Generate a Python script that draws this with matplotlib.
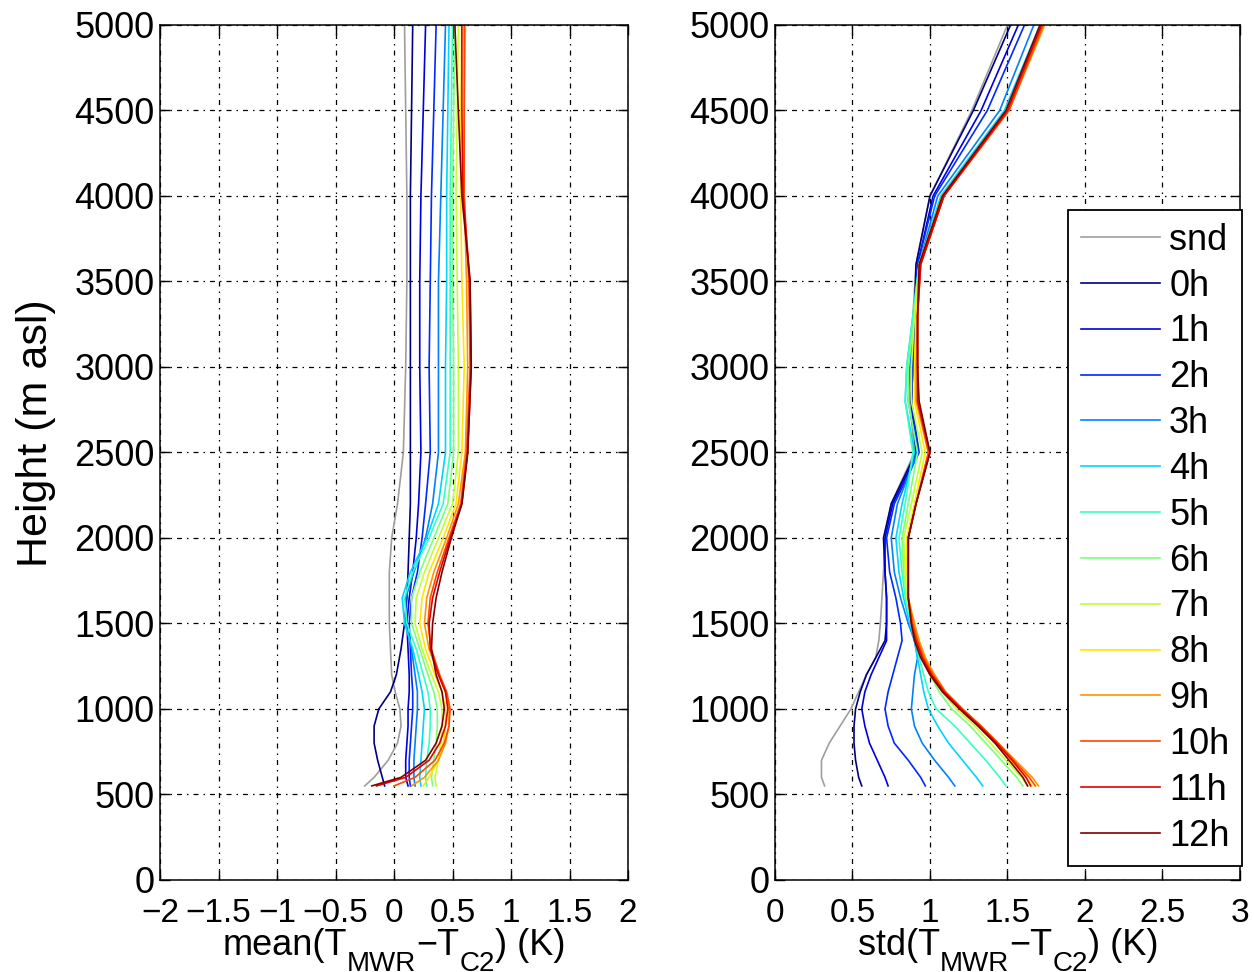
import numpy as np
import matplotlib
matplotlib.use('Agg')
import matplotlib.pyplot as plt
from matplotlib.transforms import IdentityTransform

plt.rcParams['font.family'] = ['Liberation Sans', 'DejaVu Sans']
plt.rcParams['mathtext.default'] = 'regular'

# Series labels (snd = radiosonde, then forecast lead hours)
labels = ['snd', '0h', '1h', '2h', '3h', '4h', '5h', '6h', '7h', '8h', '9h', '10h', '11h', '12h']

# ---- mean(T_MWR - T_C2) profiles (K) ----
heights_mean = [550, 600, 700, 800, 900, 1000, 1100, 1200, 1350, 1500, 1650, 1800,
                2000, 2200, 2500, 3000, 3500, 4000, 4500, 5000]
mean_snd = [-0.25, -0.17, -0.05, 0.03, 0.06, 0.05, 0.01, -0.02, -0.03, -0.04, -0.04, -0.04, -0.02, 0.03, 0.08, 0.10, 0.11, 0.11, 0.10, 0.09]
mean_0h = [-0.08, -0.10, -0.14, -0.17, -0.17, -0.13, -0.03, 0.02, 0.06, 0.09, 0.11, 0.12, 0.13, 0.14, 0.14, 0.14, 0.14, 0.14, 0.15, 0.16]
mean_1h = [0.12, 0.10, 0.10, 0.11, 0.12, 0.12, 0.13, 0.13, 0.12, 0.11, 0.13, 0.16, 0.19, 0.21, 0.23, 0.22, 0.22, 0.23, 0.25, 0.27]
mean_2h = [0.14, 0.13, 0.13, 0.14, 0.15, 0.16, 0.16, 0.15, 0.14, 0.13, 0.15, 0.20, 0.24, 0.27, 0.31, 0.30, 0.31, 0.32, 0.34, 0.36]
mean_3h = [0.18, 0.17, 0.17, 0.18, 0.19, 0.20, 0.20, 0.18, 0.15, 0.10, 0.10, 0.17, 0.27, 0.33, 0.38, 0.38, 0.38, 0.40, 0.42, 0.44]
mean_4h = [0.23, 0.22, 0.23, 0.24, 0.25, 0.26, 0.24, 0.21, 0.16, 0.09, 0.07, 0.14, 0.28, 0.38, 0.44, 0.44, 0.45, 0.45, 0.46, 0.47]
mean_5h = [0.28, 0.27, 0.28, 0.30, 0.31, 0.31, 0.29, 0.25, 0.19, 0.11, 0.09, 0.16, 0.30, 0.42, 0.48, 0.48, 0.48, 0.48, 0.49, 0.50]
mean_6h = [0.33, 0.32, 0.34, 0.36, 0.37, 0.37, 0.34, 0.29, 0.22, 0.15, 0.15, 0.22, 0.34, 0.46, 0.51, 0.51, 0.50, 0.50, 0.51, 0.52]
mean_7h = [0.36, 0.35, 0.38, 0.40, 0.41, 0.41, 0.38, 0.32, 0.24, 0.18, 0.19, 0.26, 0.38, 0.50, 0.55, 0.55, 0.54, 0.53, 0.54, 0.55]
mean_8h = [0.25, 0.30, 0.38, 0.42, 0.44, 0.44, 0.41, 0.35, 0.27, 0.22, 0.24, 0.30, 0.42, 0.53, 0.58, 0.60, 0.58, 0.57, 0.57, 0.58]
mean_9h = [0.15, 0.26, 0.38, 0.44, 0.47, 0.47, 0.44, 0.38, 0.30, 0.26, 0.28, 0.34, 0.45, 0.55, 0.61, 0.63, 0.62, 0.60, 0.60, 0.61]
mean_10h = [0.00, 0.18, 0.35, 0.43, 0.47, 0.48, 0.45, 0.39, 0.32, 0.29, 0.31, 0.37, 0.47, 0.57, 0.62, 0.65, 0.64, 0.60, 0.60, 0.60]
mean_11h = [-0.15, 0.10, 0.30, 0.39, 0.44, 0.46, 0.44, 0.38, 0.31, 0.30, 0.33, 0.39, 0.48, 0.58, 0.63, 0.66, 0.65, 0.59, 0.58, 0.58]
mean_12h = [-0.19, 0.06, 0.27, 0.36, 0.41, 0.43, 0.41, 0.36, 0.32, 0.33, 0.36, 0.41, 0.49, 0.58, 0.63, 0.66, 0.65, 0.58, 0.55, 0.52]

# ---- std(T_MWR - T_C2) profiles (K) ----
heights_std = [550, 600, 700, 800, 900, 1000, 1100, 1200, 1300, 1400, 1500, 1650,
               1800, 2000, 2200, 2500, 2800, 3000, 3300, 3600, 4000, 4500, 5000]
std_snd = [0.32, 0.30, 0.30, 0.35, 0.42, 0.49, 0.54, 0.59, 0.65, 0.67, 0.68, 0.69, 0.70, 0.71, 0.75, 0.90, 0.87, 0.88, 0.89, 0.91, 1.00, 1.27, 1.50]
std_0h = [0.56, 0.54, 0.52, 0.51, 0.51, 0.52, 0.55, 0.59, 0.65, 0.71, 0.72, 0.72, 0.71, 0.70, 0.75, 0.91, 0.88, 0.89, 0.90, 0.91, 1.00, 1.28, 1.52]
std_1h = [0.73, 0.71, 0.66, 0.61, 0.58, 0.56, 0.58, 0.62, 0.67, 0.72, 0.72, 0.72, 0.71, 0.71, 0.76, 0.92, 0.88, 0.89, 0.90, 0.92, 1.02, 1.33, 1.57]
std_2h = [0.97, 0.94, 0.86, 0.77, 0.73, 0.71, 0.73, 0.76, 0.79, 0.82, 0.81, 0.78, 0.74, 0.72, 0.77, 0.93, 0.88, 0.89, 0.90, 0.92, 1.03, 1.37, 1.61]
std_3h = [1.16, 1.12, 1.03, 0.95, 0.90, 0.88, 0.89, 0.90, 0.92, 0.90, 0.86, 0.81, 0.77, 0.75, 0.79, 0.92, 0.86, 0.87, 0.90, 0.93, 1.05, 1.45, 1.67]
std_4h = [1.34, 1.30, 1.21, 1.12, 1.05, 0.99, 0.96, 0.94, 0.92, 0.90, 0.87, 0.83, 0.80, 0.78, 0.82, 0.90, 0.84, 0.85, 0.89, 0.93, 1.07, 1.48, 1.71]
std_5h = [1.49, 1.45, 1.36, 1.26, 1.16, 1.04, 0.99, 0.96, 0.93, 0.91, 0.88, 0.84, 0.82, 0.80, 0.84, 0.89, 0.84, 0.85, 0.89, 0.93, 1.08, 1.49, 1.72]
std_6h = [1.60, 1.56, 1.46, 1.36, 1.26, 1.14, 1.06, 1.00, 0.95, 0.91, 0.88, 0.85, 0.83, 0.82, 0.86, 0.92, 0.86, 0.86, 0.90, 0.93, 1.08, 1.50, 1.72]
std_7h = [1.63, 1.59, 1.49, 1.39, 1.29, 1.17, 1.08, 1.01, 0.96, 0.92, 0.89, 0.85, 0.84, 0.83, 0.88, 0.95, 0.88, 0.88, 0.90, 0.93, 1.08, 1.50, 1.72]
std_8h = [1.66, 1.62, 1.52, 1.42, 1.31, 1.19, 1.09, 1.02, 0.96, 0.92, 0.89, 0.86, 0.85, 0.85, 0.90, 0.97, 0.90, 0.90, 0.91, 0.93, 1.08, 1.50, 1.73]
std_9h = [1.70, 1.66, 1.55, 1.44, 1.33, 1.21, 1.10, 1.03, 0.97, 0.93, 0.90, 0.86, 0.86, 0.86, 0.91, 0.99, 0.91, 0.91, 0.92, 0.94, 1.09, 1.51, 1.74]
std_10h = [1.68, 1.64, 1.54, 1.44, 1.33, 1.21, 1.10, 1.02, 0.96, 0.92, 0.89, 0.86, 0.86, 0.86, 0.91, 0.99, 0.92, 0.92, 0.92, 0.94, 1.09, 1.51, 1.73]
std_11h = [1.65, 1.62, 1.53, 1.43, 1.32, 1.20, 1.09, 1.01, 0.95, 0.91, 0.88, 0.86, 0.86, 0.86, 0.91, 1.00, 0.92, 0.92, 0.92, 0.94, 1.09, 1.50, 1.72]
std_12h = [1.63, 1.60, 1.51, 1.42, 1.31, 1.19, 1.08, 1.00, 0.94, 0.90, 0.88, 0.86, 0.86, 0.86, 0.91, 1.00, 0.93, 0.92, 0.92, 0.93, 1.08, 1.49, 1.71]

mean_series = [mean_snd, mean_0h, mean_1h, mean_2h, mean_3h, mean_4h, mean_5h,
               mean_6h, mean_7h, mean_8h, mean_9h, mean_10h, mean_11h, mean_12h]
std_series = [std_snd, std_0h, std_1h, std_2h, std_3h, std_4h, std_5h,
              std_6h, std_7h, std_8h, std_9h, std_10h, std_11h, std_12h]

# colours: grey for sonde, jet for the 13 lead hours
colors = [(0.62, 0.62, 0.62)] + list(plt.cm.jet(np.linspace(0, 1, 13)))

grid_ls = (0, (4, 4, 1.2, 4))

fig = plt.figure(figsize=(12.54, 9.72), dpi=100)
ax1 = fig.add_axes([0.1276, 0.0947, 0.3732, 0.8796])
ax2 = fig.add_axes([0.6180, 0.0947, 0.3708, 0.8796])


def style_axes(ax):
    ax.set_ylim(0, 5000)
    ax.set_yticks(np.arange(0, 5001, 500))
    ax.grid(True, color='black', linestyle=grid_ls, linewidth=0.9)
    ax.tick_params(direction='in', length=7, width=1, top=True, right=True)
    ax.tick_params(axis='y', labelsize=26, pad=4)
    ax.tick_params(axis='x', labelsize=24, pad=13)
    for sp in ax.spines.values():
        sp.set_linewidth(1.1)
        sp.set_color('black')


def sub_label(center_px, base_px, parts):
    """Write a label piece by piece (MATLAB-like big, low subscripts), in pixels."""
    renderer = fig.canvas.get_renderer()
    texts = []
    for s, size, dy in parts:
        t = fig.text(0, 0, s, fontsize=size, ha='left', va='baseline',
                     transform=IdentityTransform())
        texts.append((t, dy))
    widths = [t.get_window_extent(renderer).width for t, _ in texts]
    x = center_px - sum(widths) / 2
    for (t, dy), w in zip(texts, widths):
        t.set_position((x, base_px + dy))
        x += w


for vals, c, lab in zip(mean_series, colors, labels):
    ax1.plot(vals, heights_mean, color=c, lw=1.2, label=lab)
ax1.set_xlim(-2, 2)
ax1.set_xticks(np.arange(-2, 2.01, 0.5))
ax1.set_xticklabels(['\u22122', '\u22121.5', '\u22121', '\u22120.5', '0', '0.5', '1', '1.5', '2'])
style_axes(ax1)
ax1.set_ylabel('Height (m asl)', fontsize=31)
ax1.yaxis.set_label_coords(-0.222, 0.523)

for vals, c, lab in zip(std_series, colors, labels):
    ax2.plot(vals, heights_std, color=c, lw=1.2, label=lab)
ax2.set_xlim(0, 3)
ax2.set_xticks(np.arange(0, 3.01, 0.5))
ax2.set_xticklabels(['0', '0.5', '1', '1.5', '2', '2.5', '3'])
style_axes(ax2)

leg = ax2.legend(loc='lower right', bbox_to_anchor=(1.005, 0.016), fontsize=26,
                 frameon=True, fancybox=False, framealpha=1, edgecolor='black',
                 borderaxespad=0, labelspacing=0.30, handlelength=2.2,
                 handletextpad=0.25, borderpad=0.35)
leg.get_frame().set_linewidth(1.3)

# x labels with MATLAB-style subscripts
main_fs, sub_fs = 26, 20
sub_label(394, 17, [('mean(T', main_fs, 0), ('MWR', sub_fs, -16), ('\u2212T', main_fs, 0),
                    ('C2', sub_fs, -16), (') (K)', main_fs, 0)])
sub_label(1008, 17, [('std(T', main_fs, 0), ('MWR', sub_fs, -16), ('\u2212T', main_fs, 0),
                     ('C2', sub_fs, -16), (') (K)', main_fs, 0)])

fig.savefig('out.png', dpi=100)
